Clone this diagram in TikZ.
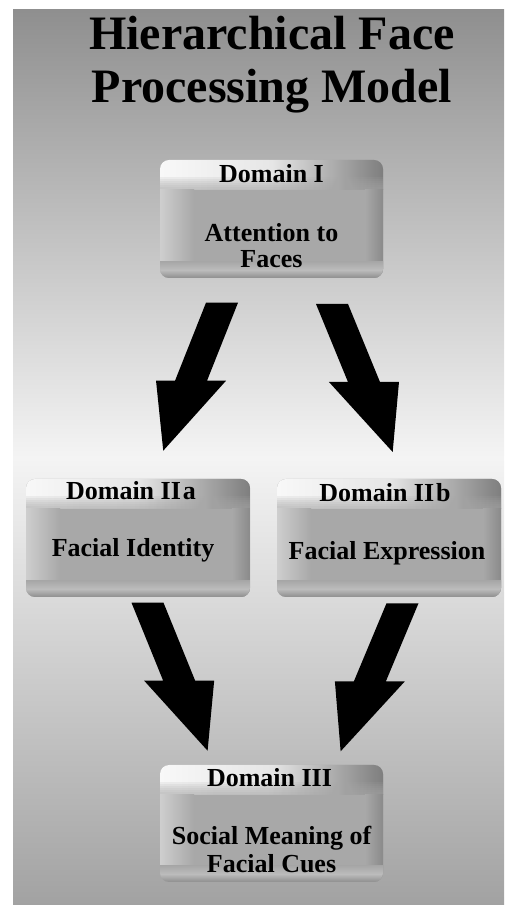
\documentclass[tikz,border=0pt]{standalone}
\usepackage{fontspec}
\setmainfont{Liberation Serif}
\usetikzlibrary{calc}
\definecolor{bgtop}{HTML}{8F8F8F}
\definecolor{bgmid}{HTML}{F4F4F4}
\definecolor{bgbot}{HTML}{A2A2A2}
\definecolor{boxbase}{HTML}{A8A8A8}
\definecolor{bandlight}{HTML}{F8F8F8}
\definecolor{bandmid}{HTML}{E6E6E6}
\definecolor{banddark}{HTML}{7E7E7E}
\definecolor{edgelight}{HTML}{CECECE}
\definecolor{edgedark}{HTML}{8A8A8A}
\definecolor{botlight}{HTML}{BCBCBC}
\definecolor{botdark}{HTML}{8E8E8E}
\tikzset{
  bevelbox/.style={rounded corners=9pt, fill=boxbase, inner sep=0pt,
    minimum width=224pt, minimum height=118pt,
    path picture={
      \coordinate (pnw) at (path picture bounding box.north west);
      \coordinate (pse) at (path picture bounding box.south east);
      \shade[sharp corners, left color=bandlight, right color=banddark, middle color=bandmid]
        (pnw) rectangle ($(pse|-pnw)+(0,-30)$);
      \foreach \k in {2,4,...,14}{
        \fill[sharp corners, boxbase, opacity=0.14]
          ($(pnw)+(0,-31)$) rectangle ($(pse|-pnw)+(0,-31+\k)$);
      }
      \shade[sharp corners, left color=edgelight, right color=boxbase]
        ($(pnw|-pse)+(0,10)$) rectangle ($(pnw)+(34,-30)$);
      \shade[sharp corners, left color=boxbase, right color=edgedark]
        ($(pse)+(-18,0)$) rectangle ($(pse|-pnw)+(0,-30)$);
      \shade[sharp corners, top color=boxbase, bottom color=botdark, middle color=botlight]
        ($(pnw|-pse)$) rectangle ($(pse)+(0,16)$);
    }},
  titletext/.style={font=\fontsize{48}{56}\selectfont\bfseries, anchor=base, inner sep=0pt},
  boxtext/.style={font=\fontsize{26}{30}\selectfont\bfseries, anchor=base, inner sep=0pt},
  blockarrow/.pic={\fill[black] (-16,0) -- (16,0) -- (16,-78) -- (35,-78) -- (0,-148)
      -- (-35,-78) -- (-16,-78) -- cycle;}
}
\begin{document}
\begin{tikzpicture}[x=1pt,y=1pt]
\useasboundingbox (0,0) rectangle (504,905);
\fill[white] (0,0) rectangle (504,905);
\shade[top color=bgtop, bottom color=bgbot, middle color=bgmid] (13,0) rectangle (504,895);

% title
\node[titletext] (title1) at (272,855) {Hierarchical Face};
\node[titletext] (title2) at (272,802) {Processing Model};

% boxes
\node[bevelbox, minimum width=223pt] (d1) at (271.5,686) {};
\node[bevelbox] (d2a) at (138,367) {};
\node[bevelbox] (d2b) at (389,367) {};
\node[bevelbox, minimum width=223pt, minimum height=117pt] (d3) at (271.5,81.5) {};

% labels
\node[boxtext] (d1h) at ($(d1.north)+(0,-23)$) {Domain I};
\node[boxtext] (d1t1) at ($(d1.north)+(0,-82)$) {Attention to};
\node[boxtext] (d1t2) at ($(d1.north)+(0,-108)$) {Faces};

\node[boxtext] (d2ah) at ($(d2a.north)+(-7,-21)$) {Domain II\kern2pt a};
\node[boxtext] (d2at) at ($(d2a.north)+(-5,-78)$) {Facial Identity};

\node[boxtext] (d2bh) at ($(d2b.north)+(-4,-23)$) {Domain II\kern2pt b};
\node[boxtext] (d2bt) at ($(d2b.north)+(-2,-81)$) {Facial Expression};

\node[boxtext] (d3h) at ($(d3.north)+(-2,-22)$) {Domain III};
\node[boxtext] (d3t1) at ($(d3.north)+(0,-80)$) {Social Meaning of};
\node[boxtext] (d3t2) at ($(d3.north)+(0,-108)$) {Facial Cues};

% block arrows
\coordinate (a1) at (222,602.3);
\coordinate (a2) at (332,601);
\coordinate (a3) at (147.5,302.3);
\coordinate (a4) at (402.5,301.7);
\pic[xslant=0.397] at (a1) {blockarrow};
\pic[xslant=-0.41] at (a2) {blockarrow};
\pic[xslant=-0.406] at (a3) {blockarrow};
\pic[xslant=0.418] at (a4) {blockarrow};
\end{tikzpicture}
\end{document}
